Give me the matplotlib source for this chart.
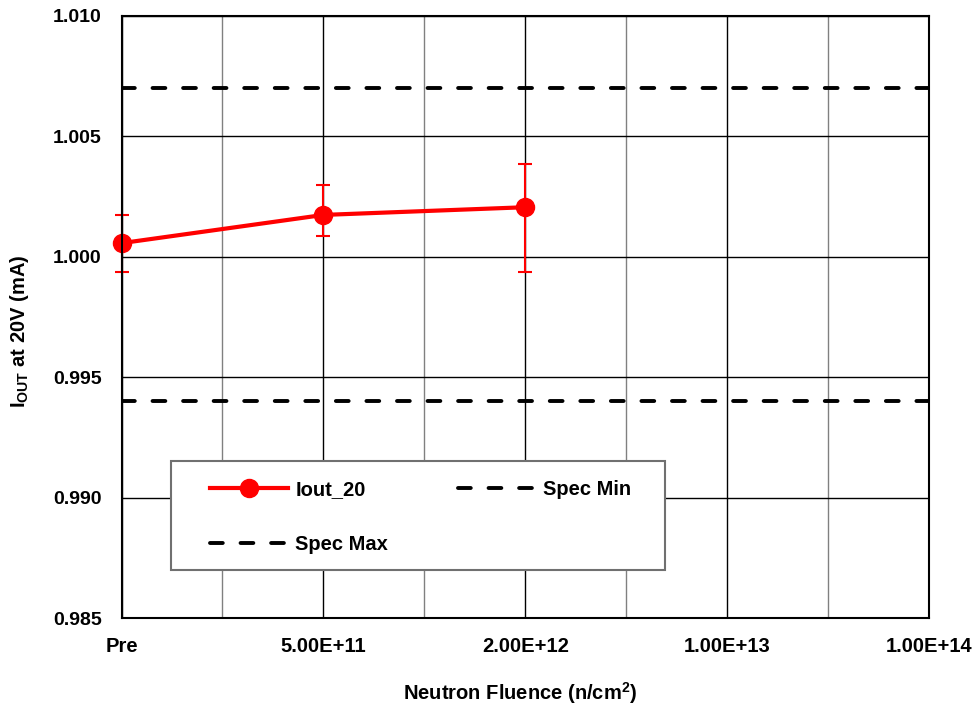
import matplotlib
matplotlib.use("Agg")
import matplotlib.pyplot as plt
from matplotlib.patches import Rectangle

plt.rcParams['font.family'] = ['Liberation Sans', 'DejaVu Sans']
plt.rcParams['font.weight'] = 'bold'
plt.rcParams['mathtext.fontset'] = 'custom'
plt.rcParams['mathtext.rm'] = 'Liberation Sans:bold'
plt.rcParams['mathtext.bf'] = 'Liberation Sans:bold'
plt.rcParams['mathtext.it'] = 'Liberation Sans:bold'
plt.rcParams['lines.scale_dashes'] = False

# ---- data ----
x_labels = ["Pre", "", "5.00E+11", "", "2.00E+12", "", "1.00E+13", "", "1.00E+14"]
iout_pos = [0, 2, 4]
iout_vals = [1.00056, 1.00173, 1.00205]
iout_err_low = [0.99936, 1.00085, 0.99937]
iout_err_high = [1.00173, 1.00298, 1.00385]
spec_min = 0.9940
spec_max = 1.0070
y_ticks = [0.985, 0.990, 0.995, 1.000, 1.005, 1.010]

W, H = 977, 709
fig = plt.figure(figsize=(W / 100, H / 100), dpi=100)
ax = fig.add_axes([0.1244, 0.1279, 0.8265, 0.8502])

ax.set_xlim(0, len(x_labels) - 1)
ax.set_ylim(y_ticks[0], y_ticks[-1])

# gridlines
for i in range(len(x_labels)):
    col = 'black' if i % 2 == 0 else '#808080'
    ax.axvline(i, color=col, lw=1.0, zorder=1)
for yv in y_ticks:
    ax.axhline(yv, color='black', lw=1.0, zorder=1)

# spec lines
dash = (0, (9.2, 12.8))
l_min = ax.axhline(spec_min, color='black', lw=2.8, linestyle=dash,
                   dash_capstyle='round', zorder=3, label='Spec Min')
l_max = ax.axhline(spec_max, color='black', lw=2.8, linestyle=dash,
                   dash_capstyle='round', zorder=3, label='Spec Max')

# data
yerr = [[v - lo for v, lo in zip(iout_vals, iout_err_low)],
        [hi - v for v, hi in zip(iout_vals, iout_err_high)]]
eb = ax.errorbar(iout_pos, iout_vals, yerr=yerr, fmt='none', ecolor='red',
                 elinewidth=1.5, capsize=4.7, capthick=1.5, zorder=4)
for c in eb.get_children():
    c.set_clip_on(False)
l_iout, = ax.plot(iout_pos, iout_vals, color='red', lw=3.0, marker='o',
                  markersize=13, zorder=5, clip_on=False, label='Iout_20')

ax.set_xticks(range(len(x_labels)))
ax.set_xticklabels(x_labels, fontsize=14.5, fontweight='bold')
ax.set_yticks(y_ticks)
ax.set_yticklabels([f"{v:.3f}" for v in y_ticks], fontsize=14, fontweight='bold')
ax.tick_params(axis='both', length=0)
ax.tick_params(axis='x', pad=13.5)
ax.tick_params(axis='y', pad=14.4)

for s in ax.spines.values():
    s.set_linewidth(1.5)
    s.set_color('black')
    s.set_zorder(6)

fig.text(520.5 / W, 1 - 700 / H, r'Neutron Fluence (n/cm$^{2}$)', fontsize=14.5,
         fontweight='bold', ha='center', va='baseline')
fig.text(20 / W, 1 - 331 / H, r'I$_{\mathrm{OUT}}$ at 20V (mA)', fontsize=14.5,
         fontweight='bold', ha='center', va='center', rotation=90)

# legend box
rect = Rectangle((0.0613, 0.0801), 0.6118, 0.1809, transform=ax.transAxes,
                 facecolor='white', edgecolor='#707070', lw=1.5, zorder=7)
ax.add_patch(rect)
leg = ax.legend(handles=[l_iout, l_max, l_min], labels=['Iout_20', 'Spec Max', 'Spec Min'],
                ncol=2, loc='upper left', bbox_to_anchor=(0.1096, 0.2297),
                frameon=False, borderpad=0, borderaxespad=0,
                handlelength=3.88, handletextpad=0.35, columnspacing=3.48,
                labelspacing=1.8, prop={'size': 14.5, 'weight': 'bold'})
leg.set_zorder(8)

fig.savefig("out.png", dpi=100, facecolor='white')
